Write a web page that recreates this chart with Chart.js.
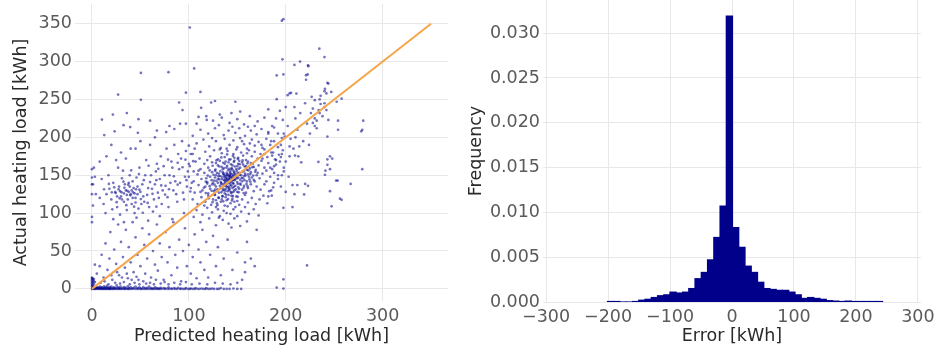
<!DOCTYPE html>
<html>
<head>
<meta charset="utf-8">
<script src="https://cdn.jsdelivr.net/npm/chart.js@4"></script>
<style>
  html, body { margin: 0; padding: 0; background: #fff; }
  #wrap { position: relative; width: 936px; height: 350px; }
  #scatterChart { position: absolute; left: 0; top: 0; }
  #histChart { position: absolute; left: 460px; top: 0; }
</style>
</head>
<body>
<div id="wrap">
  <canvas id="scatterChart" width="460" height="350"></canvas>
  <canvas id="histChart" width="476" height="350"></canvas>
</div>
<script>
/* ====== DATA ====== */

// scatter: [predicted, actual] in kWh
const clusterPts = [
  [118,228],[125,222],[134,226],[142,219],[150,224],[157,217],[163,228],[171,221],[178,226],[108,218],[131,216],[168,215],
  [112,210],[120,205],[127,212],[136,203],[141,209],[148,206],[152,212],[158,202],[164,209],[170,204],[175,211],[182,207],[188,213],[104,202],[145,214],[161,214],
  [108,192],[115,197],[121,188],[128,195],[133,186],[137,198],[142,190],[146,196],[150,187],[153,199],[157,191],[160,185],[165,197],[168,189],[172,194],[176,186],[180,198],[184,190],[188,195],[192,187],[196,199],[100,189],[124,199],[139,185],[155,195],[163,192],
  [104,178],[111,172],[117,181],[122,175],[126,183],[130,171],[134,179],[137,174],[140,182],[143,171],[146,178],[149,184],[151,173],[154,180],[156,176],[159,170],[162,183],[165,175],[168,181],[171,172],[174,178],[178,184],[181,174],[185,180],[189,171],[193,177],[197,183],[119,170],[132,184],[147,173],[160,179],[176,172],[186,176],[195,174],
  [101,162],[107,168],[112,158],[116,165],[120,160],[124,167],[127,156],[130,163],[132,169],[135,158],[137,165],[139,160],[141,167],[143,156],[145,163],[147,169],[149,158],[151,165],[153,160],[155,167],[157,156],[159,162],[161,168],[163,159],[166,165],[169,157],[172,163],[175,169],[178,160],[182,166],[186,158],[190,164],[194,168],[198,160],[110,156],[128,166],[134,161],[144,159],[150,162],[156,164],[160,157],[167,161],[180,156],[188,162],[138,168],[146,156],[152,169],[164,166],
  [100,148],[105,142],[109,151],[113,145],[116,153],[119,141],[122,148],[124,154],[126,143],[128,150],[130,145],[131,152],[133,141],[134,148],[135,154],[136,144],[137,150],[138,146],[139,153],[140,142],[141,149],[142,145],[143,152],[144,147],[145,143],[146,150],[147,154],[148,145],[149,149],[150,141],[151,147],[152,153],[153,144],[154,150],[156,146],[158,152],[160,142],[162,148],[164,154],[167,144],[170,150],[173,146],[176,152],[180,142],[184,148],[188,153],[192,145],[196,150],[139,147],[141,144],[143,148],[144,151],[137,143],[142,150],[145,146],[140,151],[138,149],[146,144],[136,152],[148,151],[150,146],[134,145],[132,149],[129,153],[127,147],[155,142],[157,149],[161,151],[165,147],[168,142],[171,153],[125,140],[118,146],
  [102,133],[106,127],[110,137],[114,130],[117,135],[120,126],[122,132],[124,138],[126,129],[128,135],[130,140],[131,127],[133,133],[134,138],[135,130],[136,136],[137,126],[138,132],[139,139],[140,129],[141,135],[142,130],[143,137],[144,127],[145,133],[146,139],[147,130],[148,136],[150,128],[151,134],[153,139],[155,131],[157,136],[159,127],[161,133],[164,138],[167,129],[170,135],[174,131],[178,138],[183,129],[187,134],[140,134],[138,137],[142,133],[136,131],[144,136],[146,128],[132,136],[152,132],[127,131],[119,139],[112,128],
  [104,118],[109,112],[113,121],[117,115],[120,123],[123,111],[125,118],[127,124],[129,113],[131,120],[133,115],[135,122],[137,110],[139,117],[141,124],[143,113],[145,119],[147,115],[149,122],[152,111],[155,118],[158,124],[161,114],[165,120],[169,112],[173,118],[177,123],[181,113],[138,121],[134,118],[144,123],[150,116],[128,117],[116,110],
  [108,104],[114,98],[119,107],[124,101],[128,108],[132,96],[136,103],[140,109],[143,99],[146,105],[150,96],[154,102],[158,108],[162,99],[167,105],[172,97],[130,105],[139,100],[148,108],
  [112,88],[121,93],[128,84],[135,91],[141,86],[147,93],[153,83],[160,89],[131,94],[144,81]
];

// the darkest part of the main cloud, around (140, 145)
const corePts = [
  [138.5,143.5],[141.5,146.5],[143.5,141.5],[136.5,147.5],[139.5,150.5],[142.5,153.5],[145.5,148.5],[147.5,143.5],[133.5,139.5],[131.5,144.5],[135.5,151.5],[140.5,156.5],[144.5,158.5],[149.5,155.5],[152.5,150.5],[154.5,146.5],[150.5,138.5],[146.5,134.5],[141.5,131.5],[137.5,129.5],
  [133.5,127.5],[129.5,131.5],[126.5,137.5],[128.5,142.5],[130.5,148.5],[132.5,155.5],[136.5,159.5],[139.5,162.5],[143.5,164.5],[147.5,161.5],[151.5,158.5],[155.5,154.5],[158.5,149.5],[157.5,143.5],[153.5,137.5],[148.5,131.5],[143.5,127.5],[138.5,124.5],[134.5,122.5],[130.5,120.5],
  [126.5,124.5],[123.5,129.5],[121.5,135.5],[123.5,143.5],[125.5,150.5],[127.5,157.5],[131.5,161.5],[135.5,166.5],[141.5,170.5],[146.5,167.5],[152.5,164.5],[157.5,161.5],[161.5,156.5],[163.5,151.5],[162.5,144.5],[159.5,138.5],[156.5,133.5],[151.5,127.5],[145.5,122.5],[140.5,118.5],
  [135.5,115.5],[129.5,110.5],[124.5,114.5],[120.5,119.5],[117.5,126.5],[115.5,133.5],[117.5,141.5],[119.5,149.5],[121.5,156.5],[124.5,162.5],[128.5,169.5],[133.5,173.5],[139.5,177.5],[145.5,175.5],[150.5,171.5],[155.5,169.5],[160.5,165.5],[165.5,160.5],[168.5,154.5],[166.5,149.5],
  [163.5,141.5],[160.5,135.5],[156.5,126.5],[150.5,121.5],[144.5,116.5],[142.5,139.5],[138.5,135.5],[144.5,144.5],[140.5,139.5],[146.5,152.5],[137.5,140.5],[141.5,158.5],[134.5,133.5],[148.5,147.5],[150.5,152.5],[139.5,144.5],[142.5,148.5],[136.5,138.5],[145.5,139.5]
];

const upperLeftPts = [
  [0,158],[0,147],[0,138],[0,125],[1,110],[0,95],[0,88],
  [2,160],[3,148],[1,138],[4,125],[8,120],[12,112],[15,125],[18,132],[20,118],[22,140],[24,128],[26,108],[28,135],[30,122],[31,146],[33,115],[35,130],[36,104],[38,140],[40,125],[41,112],[43,133],[45,120],[46,147],[48,106],[50,128],[52,138],[54,115],[55,150],[57,124],[59,108],[60,141],[62,132],[64,118],[66,155],[68,127],[70,145],[72,112],[74,162],[76,136],[78,121],[80,150],[82,168],[84,130],[86,142],[88,115],[90,158],[92,172],[94,127],[96,148],[98,135],[100,165],[102,178],[105,155],
  [10,145],[14,100],[17,150],[21,105],[27,160],[29,98],[32,156],[37,118],[39,150],[42,142],[44,100],[47,135],[49,160],[51,112],[53,122],[56,170],[58,133],[61,150],[63,102],[65,138],[67,165],[69,120],[71,175],[73,130],[75,150],[77,185],[79,108],[81,140],[83,160],[85,190],[87,125],[89,178],[91,140],[93,195],[95,118],[97,182],[99,155],[103,140],[106,185],
  [60,190],[50,195],[45,185],[40,185],[35,172],[30,180],[25,170],[20,190],[15,175],[8,168],[65,200],[80,215],
  [22,92],[33,88],[46,94],[58,90],[70,96],[83,92],[95,100],[105,95],
  [36,124],[38,128],[42,120],[44,126],[39,135],[33,126],[29,129],[47,125],[34,138],[41,130],[26,122],[31,118],[45,114],[49,131],[23,134],
  [24.5,126.5],[27.5,131.5],[30.5,127.5],[33.5,133.5],[36.5,129.5],[39.5,123.5],[42.5,127.5],[45.5,131.5],[37.5,137.5],[32.5,141.5],[28.5,119.5],[25.5,114.5],[35.5,110.5],[43.5,108.5],[50.5,118.5],[53.5,143.5],[48.5,151.5],[40.5,156.5],[20.5,127.5],[17.5,138.5],
  [12.5,131.5],[57.5,113.5],[62.5,125.5],[66.5,143.5],[71.5,136.5],[75.5,124.5],[79.5,131.5],[84.5,148.5],[88.5,137.5],[93.5,160.5],[97.5,143.5],[101.5,128.5],[68.5,158.5],[58.5,162.5],[78.5,170.5],[88.5,166.5],[96.5,170.5],[104.5,168.5],[52.5,100.5],[66.5,108.5]
];

const lowerPts = [
  [5,20],[8,30],[10,45],[12,15],[14,60],[16,25],[18,40],[19,75],[21,12],[23,52],[25,33],[27,85],[28,18],[30,62],[32,42],[34,28],[35,78],[37,14],[38,55],[40,35],[42,88],[43,22],[45,68],[47,45],[48,12],[50,30],[52,80],[54,58],[55,20],[57,40],[59,72],[61,15],[63,50],[65,32],[67,85],[68,24],[70,60],[72,42],[74,12],[76,75],[78,35],[80,55],[82,18],[84,88],[86,45],[88,28],[90,65],[92,10],[94,50],[96,80],[98,30],[100,58],[102,20],[104,42],[106,72],[108,14],[110,52],[112,35],[114,78],[116,25],[118,62],[120,15],[122,45],[125,70],[128,30],[130,55],[133,18],[136,40],[140,65],[145,25],[150,48],[155,12],[158,35],
  [9,8],[13,10],[17,6],[20,18],[24,8],[26,22],[29,7],[31,15],[33,9],[36,20],[39,6],[41,12],[44,8],[46,16],[49,6],[53,10],[56,7],[60,8],[64,6],[66,12],[71,7],[75,9],[79,6],[85,8],[91,6],[97,9],[103,6],[111,7],[119,6],[127,8],[135,7],[143,6],[150,8],
  [160,62],[164,40],[158,22],[168,30],[170,78]
];

const zeroBandPts = [
  [0,0],[0.5,1],[1,0],[1.5,2],[2,0.5],[2.5,0],[3,1.5],[3.5,0],[4,1],[4.5,2.5],[5,0],[5.5,1],[6,0.5],[6.5,2],[7,0],[7.5,1.5],[8,0],[8.5,3],[9,1],[9.5,0],[10,2],[10.5,0.5],[11,0],[11.5,1.5],[12,0],[12.5,3.5],[13,1],[13.5,0],[14,2],[14.5,0],[15,1],[15.5,4],[16,0],[16.5,1.5],[17,0.5],[17.5,0],[18,2.5],[18.5,0],[19,1],[19.5,0],[20,3],[21,0],[21.5,1.5],[22,0],[23,2],[23.5,0.5],[24,0],[25,1],[25.5,4.5],[26,0],[27,2],[27.5,0],[28,1],[29,0],[29.5,3],[30,0.5],[31,0],[32,1.5],[33,0],[33.5,2.5],[34,0],[35,1],[36,0],[37,3.5],[37.5,0],[38,1],[39,0],[40,2],[41,0],[42,0.5],[43,1.5],[44,0],[45,3],[46,0],[47,1],[48,0],[49,2],[50,0],[51,0.5],[52,0],[53,2.5],[54,0],[55,1],[56,0],[57,1.5],[58,0],[59,3],[60,0],[61,1],[62,0],[63,0.5],[64,0],[65,2],[66,0],[67,1],[68,0],[69,0.5],[70,0],[71,1.5],[72,0],[74,1],[75,0],[76,0.5],[78,0],[79,2],[80,0],[82,0.5],[83,0],[85,1],[86,0],[88,0],[89,1.5],[91,0],[92,0.5],[94,0],[96,0],[97,1],[99,0],[101,0],[102,0.5],[104,0],[106,0],[107,1],[109,0],[111,0],[113,0.5],[115,0],[117,0],[118,1],[120,0],[122,0],[124,0.5],[126,0],[129,0],[131,0],[133,1],[136,0],[139,0],[142,0],[146,0.5],[150,0],[154,0]
];

const zeroColumnPts = [
  [0,3],[0,5],[0,7],[0,9],[0,11],[0,13],[0,15],[1,4],[1,8],[1,12],[2,6],[2,10],[0.5,14],[1.5,2],[3,9],[2,13],[3,32]
];

const rightPts = [
  [182,122],[185.6,123],[197.6,107],[207,108],[247.4,109],[257.7,117.6],[256,119],[219,124.6],[245.7,129],[212,137],[220,138.5],[253.6,143],[267,138.5],[279,158],[240.5,150.6],[241,156],[245.7,158],[233.7,167.5],[243,163.7],[245.7,175],[248,172],[209.6,176],[207,137],[209,125],[223,136],[252,143],[243,171],[243,201],[254,210],[279,210],[278,208],[235,232],[228,219],[240,245],[242,258],[244,271],[223,295],[221,282],[204,258],[209,240],[197,223],[199,201],[204,188],[213,175],[216,167],
  [195,190],[198,205],[202,215],[205,198],[208,185],[210,225],[212,210],[215,232],[218,195],[220,245],[222,218],[225,205],[228,238],[230,225],[232,212],[235,250],[238,228],[240,240],[196,178],[200,168],[204,175],[192,205],[186,215],[190,225],[194,235],[200,240],[185,195],[182,205],[210,200],[214,188],[224,190],[226,232],[234,236],[236,244],[242,236],
  [280,222],[254,222],[244,223],[226.8,253.5],[230,249],[236,254.8],[190.7,250.4],[182,237],[205.5,258.7],[202,255.6],[211,257.8],[247,260],[257.7,251],[252.6,247],[243,272],[240.5,264],[240,261],[222.7,283],[221,276],[187,180],[190,170],[184,160],[192,150],[198,155],[203,148],[188,140],[195,135],[200,128],[185,130],[178,178],[175,190],[230,215],[232,222]
];

const outlierPts = [
  [196,354],[197.6,356],[101,345],[234.7,317],[240,306],[196.6,303],[209,295.6],[214.8,300],[223.4,294],[105.5,291],[79,286],[50.5,285],[190.7,281.7],[197.6,283],
  [27,256.5],[50.5,249.6],[97,259],[112,260],[90,246],[127,248],[148,247],[123,246],[93.5,236],[112.7,239],[10.3,223.5],[21.6,230],[36,232],[48,224],[60,222],[12.7,203],[23.4,208],[32.6,216],[39.5,213.5],[47.4,206],[67,209],[76.6,207],[85,211],[91,218],[97,218],[110,227],[118.5,223],[132,230],[144,232],[153,234],
  [222,31],[197.6,12.6],[190.7,1.7],[197.6,0.4]
];

// y = x reference line
const lineX = [0, 350];
const lineY = [0, 350];

const scatterXTicks = [0, 100, 200, 300];
const scatterYTicks = [0, 50, 100, 150, 200, 250, 300, 350];

// histogram of the error, density
const binCenters = [
  -196.0, -185.9, -175.8, -165.7, -155.6, -145.5, -135.4, -125.3, -115.2, -105.1,
  -95.1, -85.0, -74.9, -64.8, -54.7, -44.6, -34.5, -24.4, -14.3, -4.2,
  5.9, 16.0, 26.1, 36.2, 46.3, 56.3, 66.4, 76.5, 86.6, 96.7,
  106.8, 116.9, 127.0, 137.1, 147.2, 157.3, 167.4, 177.5, 187.6, 197.7,
  207.8, 217.8, 227.9, 238.0
];
const binFreq = [
  0.00005, 0.00005, 0, 0, 0.00005, 0.0002, 0.0003, 0.0005, 0.0007, 0.0008,
  0.0011, 0.0010, 0.0011, 0.0015, 0.0026, 0.0033, 0.0047, 0.0072, 0.0107, 0.0319,
  0.0083, 0.0061, 0.0040, 0.0033, 0.0022, 0.0015, 0.0014, 0.0013, 0.0013, 0.0011,
  0.0008, 0.0004, 0.0005, 0.0004, 0.0003, 0.00015, 0.0001, 0.00005, 0.0001, 0.00005,
  0.00005, 0.00005, 0.00005, 0.00005
];

const histXTicks = [-300, -200, -100, 0, 100, 200, 300];
const histYTicks = [0, 0.005, 0.010, 0.015, 0.020, 0.025, 0.030];

/* ====== STYLE ====== */
Chart.defaults.font.family = 'DejaVu Sans';
Chart.defaults.font.size = 17.5;

const GRID = { color: '#e8e8e8', lineWidth: 1, drawTicks: false };
const TICK_COLOR = '#5a5a5a';
const TITLE_COLOR = '#2a2a2a';
const minus = v => String(v).replace('-', '\u2212');

// chart area should touch the canvas top, so drop the label overhang padding
const noOverhangY = width => s => { s.width = width; s.paddingTop = 0; s.paddingBottom = 0; };
const noOverhangX = height => s => { s.height = height; s.paddingLeft = 0; s.paddingRight = 0; };

/* ====== SCATTER ====== */
const allPoints = [].concat(zeroBandPts, zeroColumnPts, lowerPts, upperLeftPts, clusterPts, corePts, rightPts, outlierPts);

new Chart(document.getElementById('scatterChart'), {
  type: 'scatter',
  data: {
    datasets: [{
      data: allPoints.map(p => ({ x: p[0], y: p[1] })),
      backgroundColor: 'rgba(0,0,139,0.55)',
      borderWidth: 0,
      pointRadius: 1.35,
      order: 2
    }, {
      type: 'line',
      data: lineX.map((x, i) => ({ x: x, y: lineY[i] })),
      borderColor: '#f5a54b',
      borderWidth: 2,
      pointRadius: 0,
      fill: false,
      order: 1
    }]
  },
  options: {
    responsive: false, animation: false, events: [],
    layout: { padding: { left: 0, right: 12, top: 0, bottom: 0 } },
    plugins: { legend: { display: false }, tooltip: { enabled: false } },
    scales: {
      x: {
        type: 'linear', min: -17.5, max: 367.5,
        afterBuildTicks: s => { s.ticks = scatterXTicks.map(v => ({ value: v })); },
        afterFit: noOverhangX(49),
        grid: GRID, border: { display: false },
        ticks: { color: TICK_COLOR, padding: 5, maxRotation: 0 },
        title: { display: true, text: 'Predicted heating load [kWh]', color: TITLE_COLOR, padding: { top: 0, bottom: 3 } }
      },
      y: {
        type: 'linear', min: -16, max: 376,
        afterBuildTicks: s => { s.ticks = scatterYTicks.map(v => ({ value: v })); },
        afterFit: noOverhangY(75),
        grid: GRID, border: { display: false },
        ticks: { color: TICK_COLOR, padding: 3 },
        title: { display: true, text: 'Actual heating load [kWh]', color: TITLE_COLOR, padding: { top: 11, bottom: 0 } }
      }
    }
  }
});

/* ====== HISTOGRAM ====== */
new Chart(document.getElementById('histChart'), {
  type: 'bar',
  data: {
    datasets: [{
      data: binCenters.map((x, i) => ({ x: x, y: binFreq[i] })),
      backgroundColor: '#00008b',
      borderWidth: 0,
      inflateAmount: 0.6,
      barPercentage: 1,
      categoryPercentage: 1
    }]
  },
  options: {
    responsive: false, animation: false, events: [],
    layout: { padding: { left: 0, right: 15, top: 0, bottom: 0 } },
    plugins: { legend: { display: false }, tooltip: { enabled: false } },
    scales: {
      x: {
        type: 'linear', min: -305, max: 305, offset: false,
        afterBuildTicks: s => { s.ticks = histXTicks.map(v => ({ value: v })); },
        afterFit: noOverhangX(48),
        grid: Object.assign({ offset: false }, GRID), border: { display: false },
        ticks: { color: TICK_COLOR, padding: 5, maxRotation: 0, callback: v => minus(v) },
        title: { display: true, text: 'Error [kWh]', color: TITLE_COLOR, padding: { top: 0, bottom: 3 } }
      },
      y: {
        type: 'linear', min: 0, max: 0.0337,
        afterBuildTicks: s => { s.ticks = histYTicks.map(v => ({ value: v })); },
        afterFit: noOverhangY(83),
        grid: GRID, border: { display: false },
        ticks: { color: TICK_COLOR, padding: 3, callback: v => v.toFixed(3) },
        title: { display: true, text: 'Frequency', color: TITLE_COLOR, padding: { top: 6, bottom: 0 } }
      }
    }
  }
});
</script>
</body>
</html>
